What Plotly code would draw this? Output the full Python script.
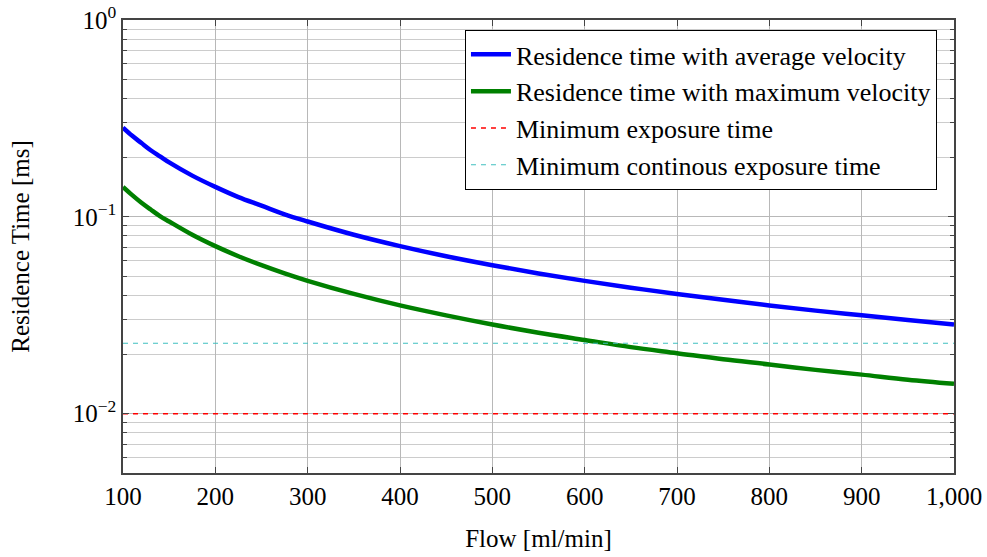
import plotly.graph_objects as go

# Flow rate [ml/min] and residence times [ms]
flow = [100, 110, 120, 130, 140, 150, 175, 200, 225, 250, 275, 300, 350, 400, 450, 500,
        550, 600, 650, 700, 750, 800, 850, 900, 950, 1000]
t_avg = [0.284, 0.258, 0.237, 0.218, 0.203, 0.189, 0.162, 0.142, 0.126, 0.114, 0.103, 0.0947,
         0.0811, 0.071, 0.0631, 0.0568, 0.0516, 0.0473, 0.0437, 0.0406, 0.0379, 0.0355,
         0.0334, 0.0316, 0.0299, 0.0284]
t_max = [0.142, 0.129, 0.118, 0.109, 0.101, 0.0947, 0.0811, 0.071, 0.0631, 0.0568, 0.0516,
         0.0473, 0.0406, 0.0355, 0.0316, 0.0284, 0.0258, 0.0237, 0.0218, 0.0203, 0.0189,
         0.0178, 0.0167, 0.0158, 0.0149, 0.0142]

# Threshold levels [ms]
flow_span = [100, 1000]
t_min_exposure = 0.01
t_min_continuous = 0.0228

x_ticks = [100, 200, 300, 400, 500, 600, 700, 800, 900, 1000]
y_ticks = [1, 0.1, 0.01]
y_tick_text = ["10<sup>0</sup>", "10<sup>\u22121</sup>", "10<sup>\u22122</sup>"]
y_minor = [k * 10.0 ** e for e in (-3, -2, -1) for k in range(2, 10) if k * 10.0 ** e >= 0.005]

FONT = "Liberation Serif"

fig = go.Figure()
fig.add_trace(go.Scatter(x=flow, y=t_avg, mode="lines", line=dict(color="#0000ff", width=4.5, shape="spline", smoothing=1.0),
                         name="Residence time with average velocity"))
fig.add_trace(go.Scatter(x=flow, y=t_max, mode="lines", line=dict(color="#008000", width=4.5, shape="spline", smoothing=1.0),
                         name="Residence time with maximum velocity"))
fig.add_trace(go.Scatter(x=flow_span, y=[t_min_exposure] * 2, mode="lines",
                         line=dict(color="#ff0000", width=1.4, dash="5px,5px"),
                         name="Minimum exposure time"))
fig.add_trace(go.Scatter(x=flow_span, y=[t_min_continuous] * 2, mode="lines",
                         line=dict(color="#40c0c0", width=1.2, dash="5px,5px"),
                         name="Minimum continous exposure time"))

fig.update_layout(
    width=987, height=557,
    margin=dict(l=123, r=33, t=20, b=84),
    plot_bgcolor="white", paper_bgcolor="white",
    font=dict(family=FONT, size=25, color="black"),
    legend=dict(x=0.9795, y=0.978, xanchor="right", yanchor="top",
                bgcolor="white", bordercolor="black", borderwidth=1,
                font=dict(family=FONT, size=26), tracegroupgap=0, itemwidth=40),
    xaxis=dict(
        range=[100, 1000], tickvals=x_ticks, tickformat=",d", automargin=False,
        showgrid=True, gridcolor="#b8b8b8", gridwidth=1,
        ticks="inside", ticklen=6, tickcolor="#444", mirror="allticks",
        showline=True, linecolor="#444", linewidth=1.5, zeroline=False,
        title=dict(text="Flow [ml/min]", font=dict(size=25), standoff=21),
        tickfont=dict(size=25),
    ),
    yaxis=dict(
        type="log", range=[-2.30103, 0], tickvals=y_ticks, ticktext=y_tick_text, automargin=False,
        showgrid=True, gridcolor="#b8b8b8", gridwidth=1,
        ticks="inside", ticklen=6, tickcolor="#444", mirror="allticks",
        showline=True, linecolor="#444", linewidth=1.5, zeroline=False,
        minor=dict(tickvals=y_minor, ticks="inside", ticklen=4, tickcolor="#444",
                   showgrid=True, gridcolor="#cccccc", gridwidth=1),
        title=dict(text="Residence Time [ms]", font=dict(size=25), standoff=36),
        tickfont=dict(size=25),
    ),
)

fig.write_html("out.html")
